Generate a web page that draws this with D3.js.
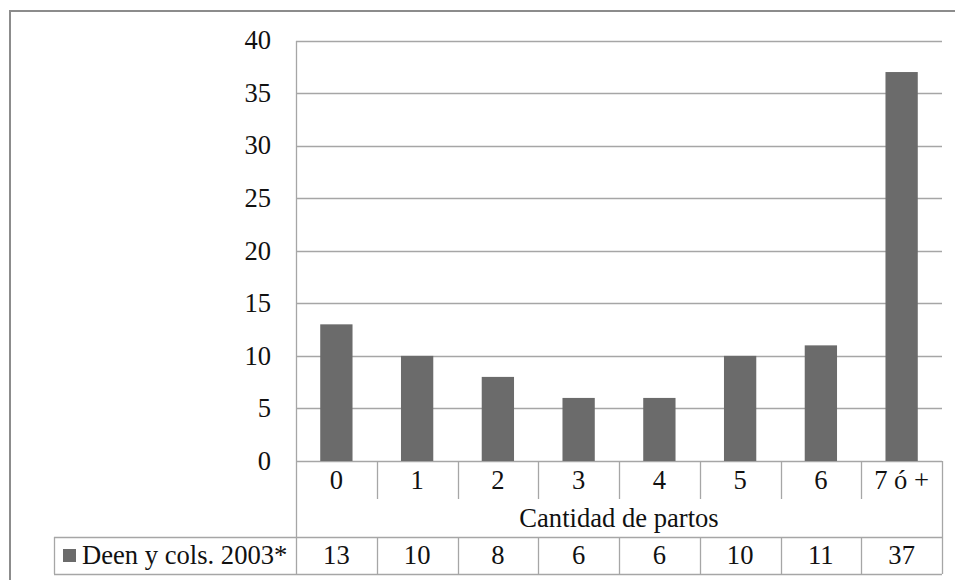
<!DOCTYPE html>
<html>
<head>
<meta charset="utf-8">
<script src="https://cdn.jsdelivr.net/npm/d3@7"></script>
<style>
  body { margin: 0; background: #fff; }
</style>
</head>
<body>
<svg id="chart"></svg>
<script>
// Data
const categories = ["0", "1", "2", "3", "4", "5", "6", "7 ó +"];
const values = [13, 10, 8, 6, 6, 10, 11, 37];
const seriesName = "Deen y cols. 2003*";
const axisTitle = "Cantidad de partos";
const yTicks = [0, 5, 10, 15, 20, 25, 30, 35, 40];

const width = 955, height = 580;
const fontSize = 26.6;
const plotLeft = 296, plotRight = 942, plotTop = 40.5, plotBottom = 461;
const catRowBottom = 499, titleRowBottom = 537, tableBottom = 574, legendLeft = 54;
const gridColor = "#a6a6a6", barColor = "#6b6b6b", textColor = "#111";

const svg = d3.select("#chart")
    .attr("width", width)
    .attr("height", height);

// place a text at (tx, ty), vertically centred
function label(g, tx, ty, str, anchor) {
    return g.append("text")
        .attr("x", tx)
        .attr("y", ty)
        .attr("dy", "0.33em")
        .attr("text-anchor", anchor || "middle")
        .style("font-family", "\"Liberation Serif\"")
        .style("font-size", fontSize + "px")
        .style("fill", textColor)
        .text(str);
}

// outer frame (right and bottom edges fall outside the picture)
svg.append("rect")
    .attr("x", 10).attr("y", 11)
    .attr("width", 960).attr("height", 600)
    .attr("fill", "none")
    .attr("stroke", "#8c8c8c")
    .attr("stroke-width", 2);

const x = d3.scaleBand()
    .domain(categories)
    .range([plotLeft, plotRight])
    .paddingInner(0)
    .paddingOuter(0);

const y = d3.scaleLinear()
    .domain([0, 40])
    .range([plotBottom, plotTop]);

// gridlines
svg.append("g")
    .selectAll("line")
    .data(yTicks)
    .enter()
    .append("line")
    .attr("x1", plotLeft).attr("x2", plotRight)
    .attr("y1", d => Math.round(y(d)) + 0.5)
    .attr("y2", d => Math.round(y(d)) + 0.5)
    .attr("stroke", gridColor)
    .attr("stroke-width", 1.3);

// y axis line
svg.append("line")
    .attr("x1", plotLeft + 0.5).attr("x2", plotLeft + 0.5)
    .attr("y1", Math.round(y(40))).attr("y2", tableBottom)
    .attr("stroke", gridColor)
    .attr("stroke-width", 1.3);

// y tick labels
const yLabels = svg.append("g");
yTicks.forEach(t => label(yLabels, 271, y(t), t, "end"));

// bars
const barW = x.bandwidth() * 0.4;
svg.append("g")
    .selectAll("rect")
    .data(values)
    .enter()
    .append("rect")
    .attr("x", (d, i) => x(categories[i]) + (x.bandwidth() - barW) / 2)
    .attr("y", d => y(d))
    .attr("width", barW)
    .attr("height", d => y(0) - y(d))
    .attr("fill", barColor);

// data table
const table = svg.append("g");

// category row dividers
table.selectAll(".catdiv")
    .data(categories.slice(1))
    .enter()
    .append("line")
    .attr("class", "catdiv")
    .attr("x1", d => Math.round(x(d)) + 0.5).attr("x2", d => Math.round(x(d)) + 0.5)
    .attr("y1", plotBottom).attr("y2", catRowBottom)
    .attr("stroke", gridColor).attr("stroke-width", 1.3);

// value row dividers
table.selectAll(".valdiv")
    .data(categories.slice(1))
    .enter()
    .append("line")
    .attr("class", "valdiv")
    .attr("x1", d => Math.round(x(d)) + 0.5).attr("x2", d => Math.round(x(d)) + 0.5)
    .attr("y1", titleRowBottom).attr("y2", tableBottom)
    .attr("stroke", gridColor).attr("stroke-width", 1.3);

// horizontal table lines
[titleRowBottom, tableBottom].forEach(yy => {
    table.append("line")
        .attr("x1", legendLeft).attr("x2", plotRight)
        .attr("y1", yy + 0.5).attr("y2", yy + 0.5)
        .attr("stroke", gridColor).attr("stroke-width", 1.3);
});

// right and legend edges
table.append("line")
    .attr("x1", plotRight + 0.5).attr("x2", plotRight + 0.5)
    .attr("y1", plotBottom).attr("y2", tableBottom)
    .attr("stroke", gridColor).attr("stroke-width", 1.3);
table.append("line")
    .attr("x1", legendLeft + 0.5).attr("x2", legendLeft + 0.5)
    .attr("y1", titleRowBottom).attr("y2", tableBottom)
    .attr("stroke", gridColor).attr("stroke-width", 1.3);

// category labels
categories.forEach(c => label(table, x(c) + x.bandwidth() / 2, (plotBottom + catRowBottom) / 2, c));

// axis title
label(table, (plotLeft + plotRight) / 2, (catRowBottom + titleRowBottom) / 2, axisTitle);

// values row
const midRow = (titleRowBottom + tableBottom) / 2;
values.forEach((v, i) => label(table, x(categories[i]) + x.bandwidth() / 2, midRow, v));

// legend key + series name
table.append("rect")
    .attr("x", 63).attr("y", midRow - 6.5)
    .attr("width", 13).attr("height", 13)
    .attr("fill", barColor);
label(table, 82, midRow, seriesName, "start");
</script>
</body>
</html>
